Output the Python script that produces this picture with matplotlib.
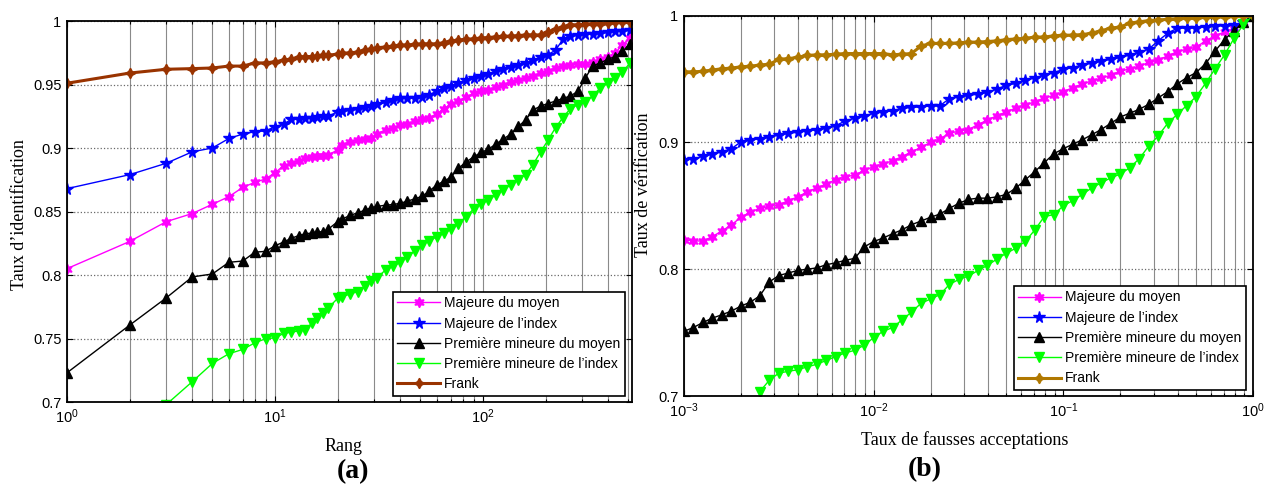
import numpy as np
import matplotlib
matplotlib.use("Agg")
import matplotlib.pyplot as plt
from matplotlib.ticker import LogLocator, NullFormatter, FixedLocator, FuncFormatter

plt.rcParams["font.family"] = ["Liberation Sans", "DejaVu Sans"]
plt.rcParams["mathtext.default"] = "regular"
plt.rcParams["axes.unicode_minus"] = False

nan = np.nan

# ---- (a) CMC: rank vs identification rate ----
rang = [1, 2, 3, 4, 5, 6, 7, 8, 9, 10,
        11, 12, 13, 14, 15, 16, 17, 18, 20, 21,
        23, 25, 27, 29, 31, 34, 37, 40, 43, 47,
        51, 55, 60, 65, 70, 76, 83, 90, 98, 106,
        115, 125, 136, 148, 160, 174, 189, 205, 223, 242,
        263, 285, 310, 336, 365, 397, 431, 468, 508]

a_majeure_moyen = [.805, .8264, .842, .8484, .8557, .8617, .869, .873, .8756, .8806,
                   .886, .888, .890, .892, .893, .8935, .894, .8945, .8985, .9026,
                   .905, .906, .907, .908, .911, .9145, .916, .918, .919, .921,
                   .9225, .9237, .927, .931, .9345, .937, .940, .943, .945, .946,
                   .948, .950, .952, .9535, .955, .957, .959, .961, .963, .9645,
                   .9655, .966, .9665, .968, .970, .9715, .975, .981, .987]
a_majeure_index = [.868, .879, .888, .897, .900, .9075, .911, .9128, .9135, .9167,
                   .919, .9225, .923, .924, .924, .9245, .925, .925, .9285, .929,
                   .930, .931, .932, .933, .9345, .936, .938, .9395, .9395, .9395,
                   .940, .942, .9447, .947, .949, .951, .9535, .955, .957, .958,
                   .9605, .962, .964, .9655, .967, .969, .9715, .9735, .977, .9855,
                   .988, .989, .9895, .990, .9905, .991, .992, .9925, .993]
a_mineure_moyen = [.723, .7605, .782, .7985, .8008, .810, .811, .818, .8186, .823,
                   .826, .829, .831, .8325, .833, .834, .834, .836, .842, .844,
                   .847, .849, .851, .853, .854, .855, .8555, .8565, .858, .860,
                   .862, .866, .871, .874, .877, .884, .889, .893, .8965, .899,
                   .903, .907, .911, .917, .922, .930, .933, .935, .937, .939,
                   .941, .9445, .955, .9645, .967, .9697, .972, .976, .982]
a_mineure_index = [nan, nan, .698, .716, .7304, .738, .7414, .7466, .7498, .7505,
                   .754, .755, .756, .757, .762, .766, .770, .774, .7816, .783,
                   .785, .787, .791, .795, .798, .804, .807, .810, .814, .819,
                   .8237, .827, .830, .833, .836, .840, .846, .852, .856, .859,
                   .863, .867, .871, .875, .879, .887, .897, .906, .916, .924,
                   .931, .934, .936, .941, .947, .951, .955, .9595, .967]
a_frank = [.951, .959, .962, .9625, .963, .9645, .9645, .967, .967, .968,
           .969, .970, .9715, .972, .972, .9725, .973, .973, .974, .9745,
           .975, .9755, .977, .978, .979, .9795, .980, .981, .981, .9815,
           .982, .982, .982, .983, .984, .985, .9855, .986, .9865, .987,
           .9875, .988, .988, .9885, .989, .989, .989, .9915, .9935, .995,
           .997, .997, .9975, .998, .998, .9985, .999, .999, .999]

# ---- (b) ROC: false acceptance rate vs verification rate ----
far = [0.001, 0.00112, 0.00126, 0.00141, 0.00158, 0.00178, 0.002, 0.00224, 0.00251, 0.00282,
       0.00316, 0.00355, 0.00398, 0.00447, 0.00501, 0.00562, 0.00631, 0.00708, 0.00794, 0.00891,
       0.01, 0.0112, 0.0126, 0.0141, 0.0158, 0.0178, 0.02, 0.0224, 0.0251, 0.0282,
       0.0316, 0.0355, 0.0398, 0.0447, 0.0501, 0.0562, 0.0631, 0.0708, 0.0794, 0.0891,
       0.1, 0.112, 0.126, 0.141, 0.158, 0.178, 0.2, 0.224, 0.251, 0.282,
       0.316, 0.355, 0.398, 0.447, 0.501, 0.562, 0.631, 0.708, 0.794, 0.891,
       1.0]

b_majeure_moyen = [.823, .8225, .822, .8257, .830, .835, .841, .845, .848, .8495,
                   .8507, .854, .857, .861, .864, .867, .8705, .873, .874, .878,
                   .8808, .883, .8855, .8887, .8925, .896, .900, .903, .907, .909,
                   .910, .914, .9176, .921, .924, .927, .9295, .932, .935, .937,
                   .940, .943, .946, .9485, .9505, .953, .956, .958, .960, .963,
                   .965, .968, .9715, .9735, .975, .980, .984, .987, .990, .995,
                   1.0]
b_majeure_index = [.886, .887, .889, .891, .8925, .895, .9005, .902, .903, .904,
                   .906, .907, .908, .909, .910, .9115, .913, .917, .919, .921,
                   .9228, .924, .925, .9268, .9275, .928, .929, .929, .9345, .936,
                   .937, .938, .9395, .942, .945, .9465, .949, .951, .953, .955,
                   .9575, .959, .961, .9625, .964, .9655, .967, .969, .971, .9735,
                   .980, .986, .990, .990, .9905, .991, .9915, .992, .9925, .995,
                   1.0]
b_mineure_moyen = [.751, .754, .758, .7614, .764, .767, .771, .774, .779, .790,
                   .795, .797, .799, .800, .801, .8035, .805, .807, .8085, .8175,
                   .8218, .8245, .828, .831, .835, .838, .841, .8435, .848, .852,
                   .855, .856, .856, .857, .859, .864, .8705, .877, .884, .891,
                   .895, .8985, .902, .906, .910, .915, .920, .923, .926, .930,
                   .935, .940, .946, .951, .955, .962, .972, .981, .988, .995,
                   1.0]
b_mineure_index = [nan, nan, nan, nan, nan, nan, nan, nan, .7035, .7125,
                   .718, .7195, .7207, .723, .725, .728, .731, .734, .736, .740,
                   .746, .751, .754, .760, .766, .7732, .7765, .780, .788, .792,
                   .7945, .799, .803, .808, .8126, .8165, .822, .831, .8415, .843,
                   .850, .854, .859, .864, .868, .872, .875, .880, .887, .897,
                   .905, .915, .922, .929, .936, .9465, .958, .969, .982, .993,
                   1.0]
b_frank = [.9556, .9556, .956, .957, .958, .9585, .9596, .960, .961, .9615,
           .9655, .966, .967, .9685, .969, .969, .9695, .970, .970, .970,
           .970, .970, .969, .9695, .970, .976, .978, .978, .978, .9785,
           .979, .979, .9795, .980, .981, .9815, .982, .983, .983, .984,
           .9845, .9845, .985, .986, .988, .990, .991, .994, .995, .996,
           .9965, .997, .9975, .998, .998, .9985, .999, .9992, .9995, .9998,
           1.0]

labels = ["Majeure du moyen", "Majeure de l\u2019index", "Premi\u00e8re mineure du moyen",
          "Premi\u00e8re mineure de l\u2019index", "Frank"]
hexagram = (6, 1, 0)
star4 = (4, 1, 0)
styles = [
    dict(color="#ff00ff", marker=hexagram, ms=7.5, lw=1.0),
    dict(color="#0000ff", marker="*", ms=8.5, lw=1.0),
    dict(color="#000000", marker="^", ms=7.2, lw=1.0),
    dict(color="#00ff00", marker="v", ms=7.2, lw=1.0),
    None,
]

W, H = 1277, 486
fig = plt.figure(figsize=(W / 100, H / 100), dpi=100)
ax1 = fig.add_axes([67 / W, 1 - 402 / H, (632 - 67) / W, (402 - 21) / H])
ax2 = fig.add_axes([684 / W, 1 - 396 / H, (1253 - 684) / W, (396 - 15.5) / H])


def draw(ax, x, series, frank_color, frank_lw):
    for y, lab, st in zip(series, labels, styles):
        if st is None:
            st = dict(color=frank_color, marker=star4, ms=7.5, lw=frank_lw)
        ax.plot(x, y, label=lab, color=st["color"], marker=st["marker"],
                markersize=st["ms"], linewidth=st["lw"],
                markerfacecolor=st["color"], markeredgecolor=st["color"])


def style(ax, xlim, yticks):
    ax.set_xscale("log")
    ax.set_xlim(*xlim)
    ax.set_ylim(0.7, 1.0)
    ax.xaxis.set_major_locator(LogLocator(base=10))
    ax.xaxis.set_minor_locator(LogLocator(base=10, subs=np.arange(2, 10)))
    ax.xaxis.set_minor_formatter(NullFormatter())
    ax.yaxis.set_major_locator(FixedLocator(yticks))
    ax.yaxis.set_major_formatter(FuncFormatter(lambda v, p: f"{v:g}"))
    ax.set_axisbelow(True)
    ax.grid(True, which="both", axis="x", color="#8a8a8a", lw=0.8, ls="-")
    ax.grid(True, which="major", axis="y", color="#6a6a6a", lw=0.9, ls=":")
    ax.tick_params(which="both", direction="in", top=True, right=True,
                   labelsize=10.5, pad=4, width=0.8, color="black")
    ax.tick_params(which="major", length=4)
    ax.tick_params(which="minor", length=2.5)
    for s in ax.spines.values():
        s.set_linewidth(1.3)
    leg = ax.legend(loc="lower right", bbox_to_anchor=(0.987, 0.017), fontsize=10,
                    fancybox=False, edgecolor="black", framealpha=1, numpoints=1,
                    handlelength=3.1, handletextpad=0.3, borderpad=0.3,
                    labelspacing=0.45, borderaxespad=0)
    leg.get_frame().set_linewidth(1.2)


draw(ax1, rang, [a_majeure_moyen, a_majeure_index, a_mineure_moyen, a_mineure_index, a_frank],
     "#993300", 2.2)
style(ax1, (1, 520), [0.7, 0.75, 0.8, 0.85, 0.9, 0.95, 1.0])

draw(ax2, far, [b_majeure_moyen, b_majeure_index, b_mineure_moyen, b_mineure_index, b_frank],
     "#b07800", 2.2)
style(ax2, (1e-3, 1.0), [0.7, 0.8, 0.9, 1.0])

serif = ["Liberation Serif", "DejaVu Serif"]
fig.text(20 / W, 1 - 215 / H, "Taux d\u2019identification", rotation=90, ha="center", va="center",
         fontsize=13, family=serif)
fig.text(344 / W, 1 - 446 / H, "Rang", ha="center", va="center", fontsize=13, family=serif)
fig.text(353 / W, 1 - 472 / H, "(a)", ha="center", va="center", fontsize=20,
         fontweight="bold", family=serif)

fig.text(643 / W, 1 - 185 / H, "Taux de v\u00e9rification", rotation=90, ha="center", va="center",
         fontsize=13, family=serif)
fig.text(965 / W, 1 - 440 / H, "Taux de fausses acceptations", ha="center", va="center",
         fontsize=13, family=serif)
fig.text(925 / W, 1 - 470 / H, "(b)", ha="center", va="center", fontsize=20,
         fontweight="bold", family=serif)

fig.savefig("out.png", dpi=100)
